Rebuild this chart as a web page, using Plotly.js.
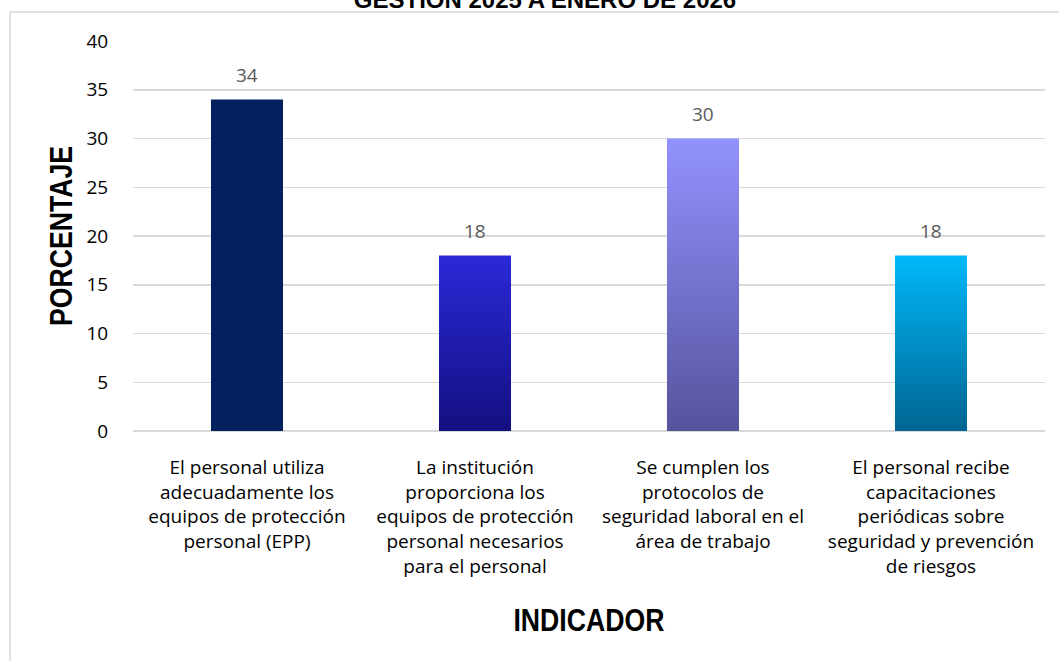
<!DOCTYPE html>
<html>
<head>
<meta charset="utf-8">
<script src="https://cdn.plot.ly/plotly-3.0.1.min.js"></script>
<style>
html,body{margin:0;padding:0;background:#fff;}
#chart{width:1059px;height:661px;}
</style>
</head>
<body>
<div id="chart"></div>
<script>
// Data
var categories = [
  "El personal utiliza<br>adecuadamente los<br>equipos de protección<br>personal (EPP)",
  "La institución<br>proporciona los<br>equipos de protección<br>personal necesarios<br>para el personal",
  "Se cumplen los<br>protocolos de<br>seguridad laboral en el<br>área de trabajo",
  "El personal recibe<br>capacitaciones<br>periódicas sobre<br>seguridad y prevención<br>de riesgos"
];
var values = [34, 18, 30, 18];
var valueLabels = ["34", "18", "30", "18"];
var yTicks = [0, 5, 10, 15, 20, 25, 30, 35, 40];
var chartTitle = "GESTIÓN 2025 A ENERO DE 2026";
var xTitle = "INDICADOR";
var yTitle = "PORCENTAJE";

// Styles
var barColors = ["#03215F", "#2020B8", "#7575D6", "#0090CA"];
var gradients = [
  ["#03215F", "#03215F"],
  ["#2B29D8", "#130F80"],
  ["#9292FE", "#56539D"],
  ["#00B8FA", "#006592"]
];
var gridColor = "#D9D9D9";
var bodyFont = "'Open Sans', Lato, sans-serif";
var titleFont = "'Liberation Sans', Arial, sans-serif";
var narrow = 0.86;

var trace = {
  type: "bar",
  x: categories,
  y: values,
  marker: {color: barColors, line: {width: 0}},
  hoverinfo: "x+y"
};

var labelAnnotations = values.map(function(v, i){
  return {
    x: categories[i], y: v, xref: "x", yref: "y",
    text: valueLabels[i], showarrow: false,
    yanchor: "middle", yshift: 25,
    font: {family: bodyFont, size: 19, color: "#595959"}
  };
});

// plot area: x 133..1045, y 41..431
var L = 133, R = 1045, T = 41, B = 431, W = 1059, H = 661;
function px2x(px){ return (px - L) / (R - L); }
function py2y(py){ return (B - py) / (B - T); }

var layout = {
  width: W, height: H,
  margin: {l: L, r: W - R, t: T, b: H - B, pad: 0},
  paper_bgcolor: "#FFFFFF",
  plot_bgcolor: "#FFFFFF",
  showlegend: false,
  bargap: 0.684,
  title: {
    text: chartTitle,
    font: {family: titleFont, size: 24, color: "#000000", weight: "bold"},
    x: 545 / W, xanchor: "center", xref: "container",
    y: 1, yanchor: "middle", yref: "container"
  },
  xaxis: {
    type: "category",
    tickfont: {family: bodyFont, size: 19, color: "#000000"},
    ticks: "outside", ticklen: 19, tickcolor: "rgba(0,0,0,0)",
    showgrid: false, showline: false, zeroline: false,
    title: {text: xTitle, font: {family: titleFont, size: 31, color: "#000000", weight: "bold"}, standoff: 31},
    automargin: false, fixedrange: true
  },
  yaxis: {
    range: [0, 40],
    tickvals: yTicks,
    ticktext: yTicks.map(String),
    tickfont: {family: bodyFont, size: 19, color: "#000000"},
    ticks: "outside", ticklen: 20, tickcolor: "rgba(0,0,0,0)",
    showgrid: true, gridcolor: gridColor, gridwidth: 1.5,
    zeroline: true, zerolinecolor: gridColor, zerolinewidth: 1.5,
    showline: false,
    title: {text: yTitle, font: {family: titleFont, size: 31, color: "#000000", weight: "bold"}, standoff: 4},
    automargin: false, fixedrange: true
  },
  annotations: labelAnnotations,
  shapes: [{
    type: "rect", xref: "paper", yref: "paper", layer: "below",
    x0: px2x(10), x1: px2x(1070), y0: py2y(670), y1: py2y(12),
    line: {color: gridColor, width: 1.5}, fillcolor: "rgba(0,0,0,0)"
  }]
};

Plotly.newPlot("chart", [trace], layout, {staticPlot: true, displayModeBar: false}).then(function(gd){
  var svg = gd.querySelector("svg.main-svg");
  var ns = "http://www.w3.org/2000/svg";
  var defs = svg.querySelector("defs") || svg.insertBefore(document.createElementNS(ns, "defs"), svg.firstChild);
  gradients.forEach(function(g, i){
    var lg = document.createElementNS(ns, "linearGradient");
    lg.setAttribute("id", "barGrad" + i);
    lg.setAttribute("x1", "0"); lg.setAttribute("y1", "0");
    lg.setAttribute("x2", "0"); lg.setAttribute("y2", "1");
    [[0, g[0]], [1, g[1]]].forEach(function(s){
      var st = document.createElementNS(ns, "stop");
      st.setAttribute("offset", s[0]);
      st.setAttribute("stop-color", s[1]);
      lg.appendChild(st);
    });
    defs.appendChild(lg);
  });
  gd.querySelectorAll(".barlayer .point path").forEach(function(p, i){
    p.style.setProperty("fill", "url(#barGrad" + i + ")");
  });
  // condensed look for axis titles (Arial Narrow style)
  [".xtitle", ".ytitle"].forEach(function(sel){
    var t = gd.querySelector(sel);
    if (!t) return;
    var x = parseFloat(t.getAttribute("x")), y = parseFloat(t.getAttribute("y"));
    var tr = t.getAttribute("transform") || "";
    t.setAttribute("transform", tr + " translate(" + x + "," + y + ") scale(" + narrow + ",1) translate(" + (-x) + "," + (-y) + ")");
  });
});
</script>
</body>
</html>
